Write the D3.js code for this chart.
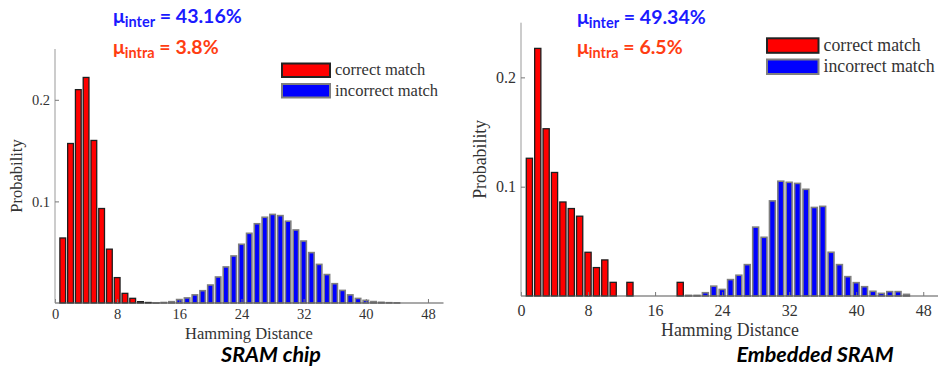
<!DOCTYPE html>
<html>
<head>
<meta charset="utf-8">
<script src="https://cdn.jsdelivr.net/npm/d3@7/dist/d3.min.js"></script>
<style>
  html, body { margin: 0; padding: 0; background: #fff; }
  svg { display: block; }
</style>
</head>
<body>
<svg id="chart" width="938" height="366"></svg>
<script>
// ---------------- DATA ----------------
const xTicks = [0, 8, 16, 24, 32, 40, 48];
const yTicks = [0.1, 0.2];
const xAxisTitle = "Hamming Distance";
const yAxisTitle = "Probability";
const legendLabels = ["correct match", "incorrect match"];

// SRAM chip : correct match, HD 0..13
const sramCorrectStart = 0;
const sramCorrect = [0, 0.064, 0.157, 0.210, 0.222, 0.160, 0.093, 0.053, 0.025, 0.0095, 0.0046, 0.0013, 0.0005, 0.0002];
// SRAM chip : incorrect match, HD 13..44
const sramIncorrectStart = 13;
const sramIncorrect = [0.0002, 0.0005, 0.0013, 0.0034, 0.0050, 0.0080, 0.0121, 0.0177, 0.0256, 0.0355, 0.0463, 0.0578, 0.0686, 0.0780, 0.0844, 0.0872, 0.0860, 0.0805, 0.0719, 0.0610, 0.0496, 0.0380, 0.0280, 0.0190, 0.0124, 0.0080, 0.0045, 0.0026, 0.0014, 0.0007, 0.0003, 0.0001];
const sramMuInter = "43.16%";
const sramMuIntra = "3.8%";
const sramTitle = "SRAM chip";

// Embedded SRAM : correct match, HD 0..19
const esramCorrectStart = 0;
const esramCorrect = [0, 0.126, 0.2265, 0.153, 0.113, 0.086, 0.080, 0.073, 0.040, 0.026, 0.033, 0.0125, 0, 0.0125, 0, 0, 0, 0, 0, 0.0125];
// Embedded SRAM : incorrect match, HD 20..46
const esramIncorrectStart = 20;
const esramIncorrect = [0.0006, 0.0006, 0.003, 0.009, 0.006, 0.015, 0.019, 0.0287, 0.063, 0.0537, 0.087, 0.105, 0.104, 0.103, 0.0976, 0.081, 0.082, 0.040, 0.0287, 0.0177, 0.0122, 0.0085, 0.0043, 0.0024, 0.004, 0.004, 0.0015];
const esramMuInter = "49.34%";
const esramMuIntra = "6.5%";
const esramTitle = "Embedded SRAM";

// ---------------- DRAW ----------------
const svg = d3.select("#chart");
const SERIF = "'Liberation Serif', 'Times New Roman', serif";
const SANS = "Lato, 'Open Sans', sans-serif";
const BLUE_TXT = "#1a1aff";
const RED_TXT = "#ff3d12";

function toPoints(start, vals) {
  return vals.map((v, i) => ({ hd: start + i, v })).filter(d => d.v > 0);
}

function panel(cfg) {
  const g = svg.append("g");
  const x = d3.scaleLinear().domain([0, 50]).range([cfg.left, cfg.right]);
  const y = d3.scaleLinear().domain([0, 0.25]).range([cfg.bottom, cfg.top]);
  const unit = x(1) - x(0);

  // bars
  const red = toPoints(cfg.cStart, cfg.correct);
  const blue = toPoints(cfg.iStart, cfg.incorrect);
  const rw = unit * 0.74, bw = unit * 0.70;
  g.append("g").selectAll("rect").data(red).join("rect")
    .attr("x", d => x(d.hd) - rw / 2)
    .attr("y", d => y(d.v))
    .attr("width", rw)
    .attr("height", d => y(0) - y(d.v))
    .attr("fill", "#ff0000")
    .attr("stroke", "#1e1e1e")
    .attr("stroke-width", 1.3);
  g.append("g").selectAll("rect").data(blue).join("rect")
    .attr("x", d => x(d.hd) - bw / 2)
    .attr("y", d => y(d.v))
    .attr("width", bw)
    .attr("height", d => y(0) - y(d.v))
    .attr("fill", "#0000ff")
    .attr("stroke", "#7f7f7f")
    .attr("stroke-width", 1.6);

  // axes
  const xAxis = d3.axisBottom(x).tickValues(xTicks).tickSize(-4).tickPadding(cfg.xPad).tickFormat(d3.format("d"));
  const xg = g.append("g").attr("transform", `translate(0,${cfg.bottom})`).call(xAxis);
  xg.select(".domain").attr("stroke", "#555").attr("stroke-width", 1.2).attr("d", `M${cfg.left},0H${x(50)}`);
  xg.selectAll(".tick line").attr("stroke", "#777");
  xg.selectAll(".tick text").attr("font-family", SERIF).attr("font-size", cfg.tickFs).attr("fill", "#333");

  const yAxis = d3.axisLeft(y).tickValues(yTicks).tickSize(-4).tickPadding(5).tickFormat(d3.format(".1f"));
  const yg = g.append("g").attr("transform", `translate(${cfg.left},0)`).call(yAxis);
  yg.select(".domain").attr("stroke", "#999").attr("stroke-width", 1).attr("d", `M0,${cfg.top}V${cfg.bottom}`);
  yg.selectAll(".tick line").attr("stroke", "#777");
  yg.selectAll(".tick text").attr("font-family", SERIF).attr("font-size", cfg.tickFs).attr("fill", "#333");

  // axis titles
  g.append("text").attr("x", cfg.xTitleX).attr("y", cfg.xTitleY)
    .attr("text-anchor", "middle").attr("font-family", SERIF).attr("font-size", cfg.labFs).attr("fill", "#333")
    .text(xAxisTitle);
  g.append("text").attr("transform", `translate(${cfg.yTitleX},${(cfg.top + cfg.bottom) / 2}) rotate(-90)`)
    .attr("text-anchor", "middle").attr("font-family", SERIF).attr("font-size", cfg.labFs).attr("fill", "#333")
    .text(yAxisTitle);

  // legend
  const lg = g.append("g");
  const fills = ["#ff0000", "#0000ff"], strokes = ["#222", "#7f7f7f"];
  cfg.legRows.forEach((ry, i) => {
    lg.append("rect").attr("x", cfg.legX).attr("y", ry).attr("width", cfg.legW).attr("height", cfg.legH)
      .attr("fill", fills[i]).attr("stroke", strokes[i]).attr("stroke-width", 2);
    lg.append("text").attr("x", cfg.legX + cfg.legW + 5).attr("y", ry + cfg.legH / 2 + 5)
      .attr("font-family", SERIF).attr("font-size", cfg.labFs).attr("fill", "#333")
      .text(legendLabels[i]);
  });

  // mu annotations
  const mu = (yy, sub, val, col) => {
    const t = g.append("text").attr("x", cfg.muX).attr("y", yy)
      .attr("font-family", SANS).attr("font-weight", "bold").attr("font-size", 19.5).attr("fill", col);
    t.append("tspan").text("μ");
    t.append("tspan").attr("font-size", 14.5).attr("dy", 4).text(sub);
    t.append("tspan").attr("dy", -4).text(" = " + val);
  };
  mu(cfg.muY1, "inter", cfg.muInter, BLUE_TXT);
  mu(cfg.muY2, "intra", cfg.muIntra, RED_TXT);

  // panel title
  g.append("text").attr("x", cfg.titleX).attr("y", 362).attr("text-anchor", "middle")
    .attr("font-family", SANS).attr("font-weight", "bold").attr("font-style", "italic")
    .attr("font-size", 21.5).attr("fill", "#000").text(cfg.title);
}

panel({
  left: 55, right: 443.5, top: 49, bottom: 303,
  correct: sramCorrect, cStart: sramCorrectStart,
  incorrect: sramIncorrect, iStart: sramIncorrectStart,
  tickFs: 14.5, labFs: 16.5, xPad: 6,
  xTitleX: 249, xTitleY: 339, yTitleX: 22,
  legX: 282, legW: 48, legH: 13.5, legRows: [63.5, 84],
  muX: 113, muY1: 23, muY2: 53.5, muInter: sramMuInter, muIntra: sramMuIntra,
  title: sramTitle, titleX: 271
});

panel({
  left: 521, right: 940, top: 22.7, bottom: 296,
  correct: esramCorrect, cStart: esramCorrectStart,
  incorrect: esramIncorrect, iStart: esramIncorrectStart,
  tickFs: 16, labFs: 17.8, xPad: 9,
  xTitleX: 730, xTitleY: 336, yTitleX: 486,
  legX: 767, legW: 51.5, legH: 14.5, legRows: [38.3, 59.5],
  muX: 577, muY1: 23.5, muY2: 53.5, muInter: esramMuInter, muIntra: esramMuIntra,
  title: esramTitle, titleX: 815
});
</script>
</body>
</html>
